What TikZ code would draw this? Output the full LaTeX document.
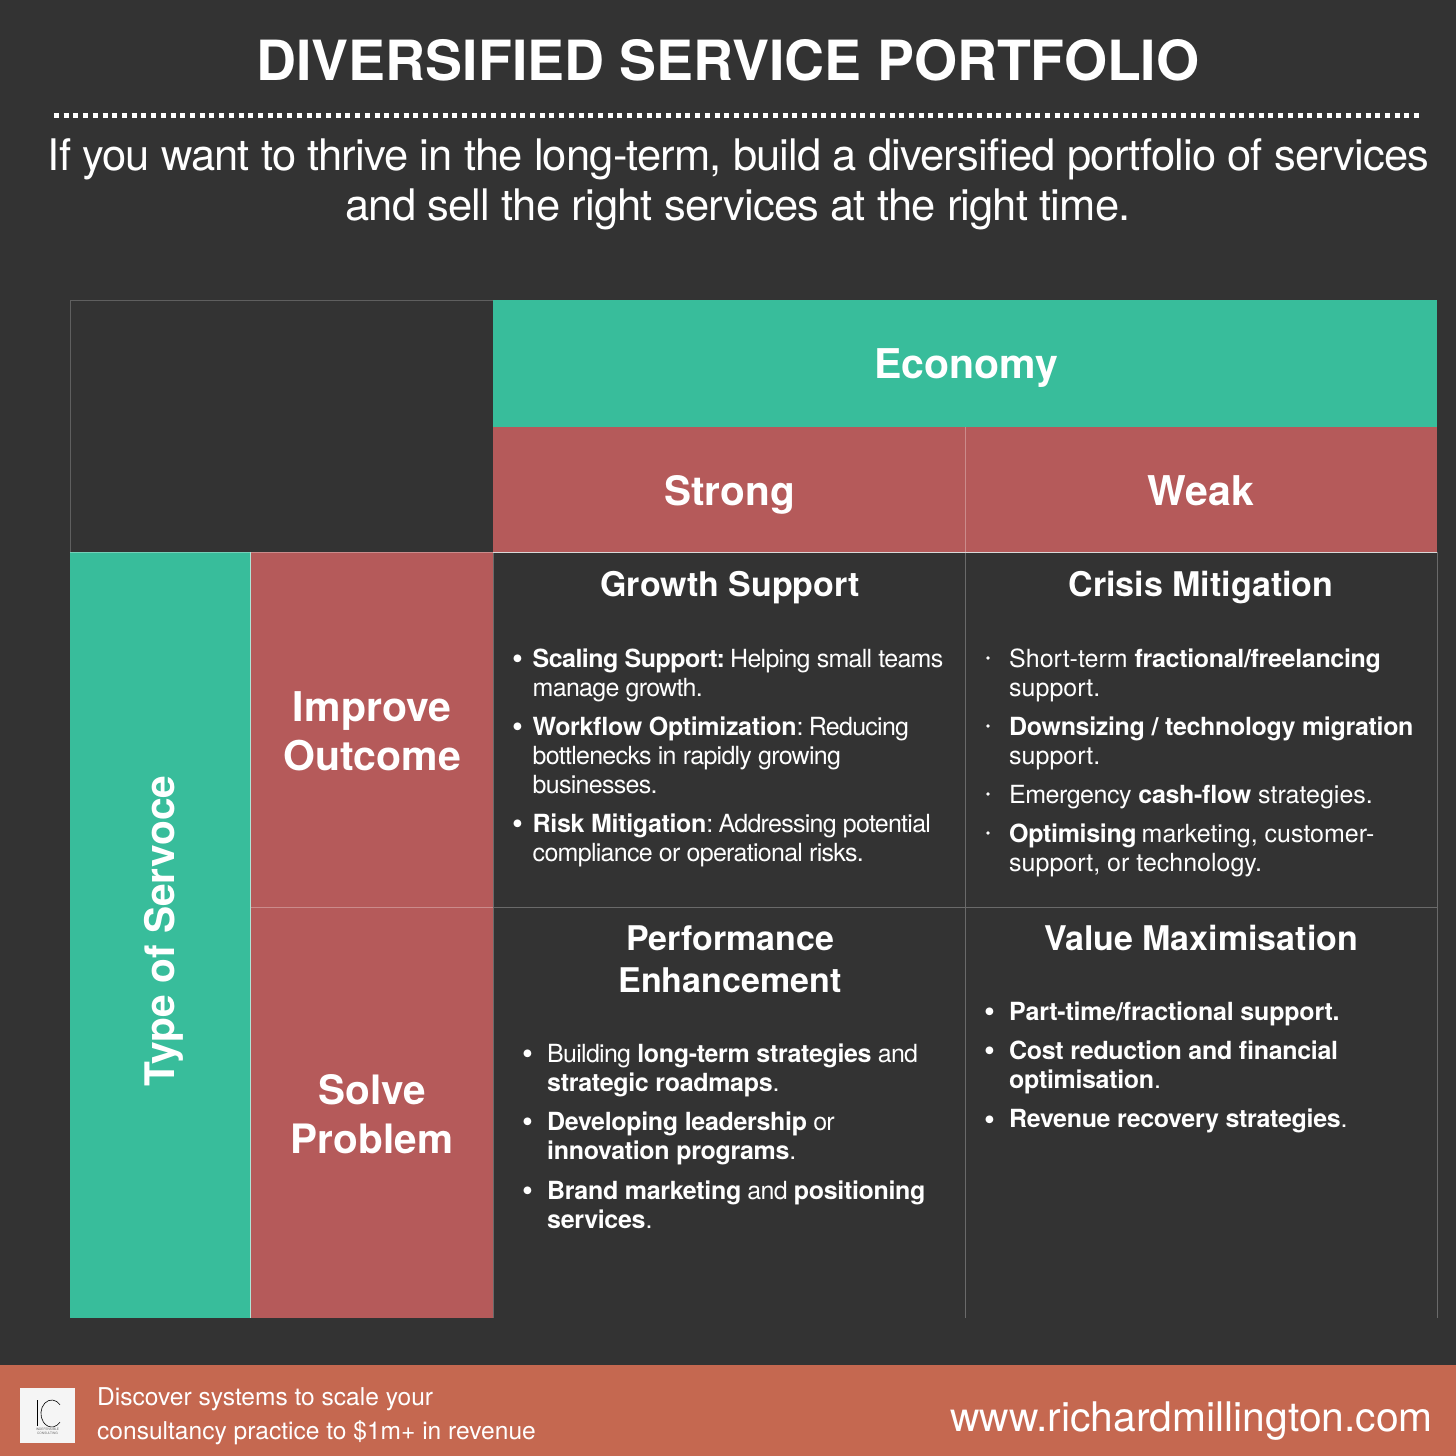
\documentclass[tikz,border=0pt]{standalone}
\usepackage{fontspec}
\setmainfont{TeX Gyre Heros}
\definecolor{bgc}{HTML}{333333}
\definecolor{grn}{HTML}{38BD9B}
\definecolor{redc}{HTML}{B55A5A}
\definecolor{foot}{HTML}{C56850}
\definecolor{gridc}{HTML}{6A6A6A}
\newcommand{\fs}[1]{\fontsize{#1}{#1}\selectfont}
\newcommand{\bb}[1]{{\bfseries\addfontfeature{LetterSpace=-1.3}#1}}
\newcommand{\bbt}[1]{{\bfseries\addfontfeature{LetterSpace=-2.2}#1}}
\newcommand{\bodyline}[3]{\node[bodytxt] (#1) at #2 {#3};}
\newcommand{\tightline}[3]{\node[bodytight] (#1) at #2 {#3};}
\newcommand{\bul}[2]{\node[bullettxt] (#1) at #2 {•};}
\newcommand{\sbul}[2]{\fill[white] #2 circle (1.9);}
\tikzset{
 x=1pt,y=-1pt,
 bodytxt/.style={anchor=base west,inner sep=0,text=white,font=\fs{25}},
 bodytight/.style={anchor=base west,inner sep=0,text=white,font=\fs{25}\addfontfeature{LetterSpace=-2.9}},
 bullettxt/.style={anchor=base west,inner sep=0,text=white,font=\fs{31}},
 head/.style={anchor=base,inner sep=0,text=white,font=\fs{34}\bfseries},
 cat/.style={anchor=base,inner sep=0,text=white,font=\fs{41}\bfseries},
 subt/.style={anchor=base,inner sep=0,text=white,font=\fs{43.5}\addfontfeature{LetterSpace=-1.9}},
 foottxt/.style={anchor=base west,inner sep=0,text=white,font=\fs{24.55}},
 logotxt/.style={anchor=base,inner sep=0,text=black!60,font=\fs{3.2}},
 gridl/.style={draw=gridc,line width=0.9pt},
}
\begin{document}
\begin{tikzpicture}
\useasboundingbox (0,0) rectangle (1456,1456);
\fill[bgc] (0,0) rectangle (1456,1456);
% title
\node[anchor=base,inner sep=0,text=white,font=\fs{55.4}\bfseries] (title) at (728,80) {DIVERSIFIED SERVICE PORTFOLIO};
\coordinate (dl) at (54,115); \coordinate (dr) at (1419,115);
\draw[white,line width=5pt,dash pattern=on 5pt off 4.715pt] (dl) -- (dr);
\node[subt] (sub1) at (738.5,170) {If you want to thrive in the long-term, build a diversified portfolio of services};
\node[subt] (sub2) at (738,220) {and sell the right services at the right time.};
% grid
\draw[gridl,draw=gridc!80!bgc] (70,300) -- (493,300);
\draw[gridl,draw=gridc!80!bgc] (70,300) -- (70,552);
\draw[gridl] (493,552) -- (493,1318);
\draw[gridl] (965,552) -- (965,1318);
\draw[gridl] (1437,552) -- (1437,1318);
% table fills
\fill[grn] (493,300) rectangle (1437,426.6);
\fill[redc] (493,426.6) rectangle (1437,552);
\fill[grn] (70,552) rectangle (250,1318);
\fill[redc] (250,552) rectangle (493,1318);
\draw[gridl,draw=redc!70!white] (965,427) -- (965,552);
\draw[gridl,draw=white!85!black] (493,552) -- (1437,552);
\draw[gridl,draw=redc!70!white] (250,552) -- (493,552);
\draw[gridl,draw=grn!70!white] (70,552) -- (250,552);
\draw[gridl,draw=redc!70!white] (250,907) -- (493,907);
\draw[gridl] (493,907) -- (1437,907);
\draw[gridl,draw=grn!40!white] (250,552) -- (250,1318);
% headers
\node[cat] (econ) at (966,378.5) {Economy};
\node[cat,font=\fs{40.5}\bfseries] (strong) at (729.5,505) {Strong};
\node[cat] (weak) at (1201,505) {Weak};
\node[cat,font=\fs{40.7}\bfseries,rotate=90] (type) at (174,931) {Type of Servoce};
\node[cat] (imp) at (372,721) {Improve};
\node[cat] (out) at (372,770) {Outcome};
\node[cat,font=\fs{40.5}\bfseries] (sol) at (372,1104) {Solve};
\node[cat,font=\fs{40.5}\bfseries] (pro) at (372,1153) {Problem};
% cell heads
\node[head] (gs) at (730,596) {Growth Support};
\node[head] (cm) at (1201,596) {Crisis Mitigation};
\node[head] (pe1) at (730,950) {Performance};
\node[head] (pe2) at (730,992) {Enhancement};
\node[head] (vm) at (1201,950) {Value Maximisation};
% Growth Support
\bul{a0}{(512,669)}
\tightline{a1}{(532.5,667)}{\bbt{Scaling Support:}\hspace{-3pt} Helping small teams}
\tightline{a2}{(532.5,696)}{manage growth.}
\bul{a3}{(512,737)}
\tightline{a4}{(532.5,735)}{\bb{Workflow Optimization}:\hspace{-3pt} Reducing}
\tightline{a5}{(532.5,764)}{bottlenecks in rapidly growing}
\tightline{a6}{(532.5,793)}{businesses.}
\bul{a7}{(512,834)}
\tightline{a8}{(532.5,832)}{\bb{Risk Mitigation}:\hspace{-3pt} Addressing potential}
\tightline{a9}{(532.5,861)}{compliance or operational risks.}
% Crisis Mitigation
\sbul{b0}{(988,658)}
\bodyline{b1}{(1009,667)}{Short-term \bb{fractional/freelancing}}
\bodyline{b2}{(1009,696)}{support.}
\sbul{b3}{(988,726)}
\bodyline{b4}{(1009,735)}{\bb{Downsizing / technology migration}}
\bodyline{b5}{(1009,764)}{support.}
\sbul{b6}{(988,794)}
\bodyline{b7}{(1009,803)}{{\addfontfeature{LetterSpace=-2}Emergency} \bb{cash-flow} strategies.}
\sbul{b8}{(988,833)}
\bodyline{b9}{(1009,842)}{\bb{Optimising}\hspace{-2pt} marketing, customer-}
\bodyline{b10}{(1009,871)}{support, or technology.}
% Performance
\bul{c0}{(522,1064)}
\tightline{c1}{(547,1062)}{Building \bb{long-term strategies} and}
\tightline{c2}{(547,1091)}{\bb{strategic roadmaps}.}
\bul{c3}{(522,1132)}
\tightline{c4}{(547,1130)}{\bb{Developing leadership} or}
\tightline{c5}{(547,1159)}{\bb{innovation programs}.}
\bul{c6}{(522,1201)}
\tightline{c7}{(547,1199)}{\bb{Brand marketing} and \bb{positioning}}
\tightline{c8}{(547,1228)}{\bb{services}.}
% Value
\bul{d0}{(984,1022.5)}
\bodyline{d1}{(1009,1020.5)}{{\bfseries\addfontfeature{LetterSpace=-0.8}Part-time/fractional support.}}
\bul{d2}{(984,1061)}
\bodyline{d3}{(1009,1059.5)}{\bb{Cost reduction and financial}}
\bodyline{d4}{(1009,1088.5)}{\bb{optimisation}.}
\bul{d5}{(984,1130)}
\bodyline{d6}{(1009,1127.5)}{\bb{Revenue recovery strategies}.}
% footer
\fill[foot] (0,1365) rectangle (1456,1456);
\fill[white!96!black] (19.5,1388) rectangle (75,1443);
\draw[black,line width=0.7pt] (37,1400) -- (37,1426);
\draw[black,line width=0.6pt] (60,1404.8) arc[start angle=40,end angle=320,x radius=10.8,y radius=-13.5];
\node[logotxt] (logo1) at (47.5,1430) {INDEFENSIBLE};
\node[logotxt] (logo2) at (47.5,1434) {CONSULTING};
\node[foottxt] (f1) at (97,1405) {Discover systems to scale your};
\node[foottxt] (f2) at (97,1439) {consultancy practice to \$1m+ in revenue};
\node[anchor=base east,inner sep=0,text=white,font=\fs{40.8}] (url) at (1433,1431) {www.richardmillington.com};
\end{tikzpicture}
\end{document}
